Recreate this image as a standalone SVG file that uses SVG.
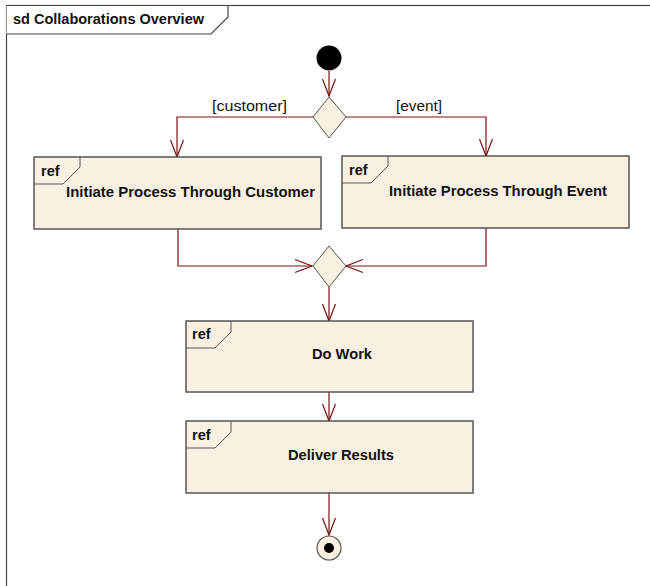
<svg xmlns="http://www.w3.org/2000/svg" width="650" height="586" viewBox="0 0 650 586">
<style>
.frame{fill:#ffffff;stroke:#444444;stroke-width:1.2}
.box{fill:#FAF0E2;stroke:#555555;stroke-width:1.5}
.tab{fill:none;stroke:#555555;stroke-width:1}
.conn{fill:none;stroke:#7B1111;stroke-width:1.2}
.bold{font-family:"Liberation Sans",Arial,sans-serif;font-weight:bold;font-size:14.5px;fill:#111111}
.lbl{font-family:"Liberation Sans",Arial,sans-serif;font-size:14px;fill:#111111}
</style>
<defs>
<marker id="arr" viewBox="-19 -8 21 16" markerWidth="21" markerHeight="16" refX="0" refY="0" orient="auto" markerUnits="userSpaceOnUse">
<path d="M-17,-6.5 L0,0 L-17,6.5" fill="none" stroke="#7B1111" stroke-width="1.2"/>
</marker>
</defs>
<rect x="0" y="0" width="650" height="586" fill="#ffffff"/>
<g id="frame">
<rect class="frame" x="6.5" y="5.5" width="660" height="600"/>
<path class="frame" d="M6.5,5.5 L228,5.5 L228,17 L211,34 L6.5,34"/>
<text class="bold" x="13" y="24" textLength="191" lengthAdjust="spacingAndGlyphs">sd Collaborations Overview</text>
</g>
<g id="connectors">
<path class="conn" d="M329,71 L329,96" marker-end="url(#arr)"/>
<path class="conn" d="M313,117 L177,117 L177,157" marker-end="url(#arr)"/>
<path class="conn" d="M346,117 L486,117 L486,156" marker-end="url(#arr)"/>
<path class="conn" d="M178,229 L178,266 L312,266" marker-end="url(#arr)"/>
<path class="conn" d="M486,228 L486,266 L346,266" marker-end="url(#arr)"/>
<path class="conn" d="M329,287 L329,321" marker-end="url(#arr)"/>
<path class="conn" d="M329,392 L329,421" marker-end="url(#arr)"/>
<path class="conn" d="M329,493 L329,535" marker-end="url(#arr)"/>
<text class="lbl" x="212" y="111" textLength="75" lengthAdjust="spacingAndGlyphs">[customer]</text>
<text class="lbl" x="396" y="111" textLength="46" lengthAdjust="spacingAndGlyphs">[event]</text>
</g>
<g id="initial">
<circle cx="329" cy="58" r="12.5" fill="#000000"/>
</g>
<g id="decision1">
<polygon points="329,97 346,117 329,138 313,117" fill="#FAF0E2" stroke="#555555" stroke-width="1"/>
</g>
<g id="refCustomer">
<rect class="box" x="34" y="157" width="287" height="72"/>
<path class="tab" d="M34,184 L63,184 L80,167 L80,157"/>
<text class="bold" x="41" y="176">ref</text>
<text class="bold" x="66" y="197" textLength="249" lengthAdjust="spacingAndGlyphs">Initiate Process Through Customer</text>
</g>
<g id="refEvent">
<rect class="box" x="342" y="156" width="287" height="72"/>
<path class="tab" d="M342,183 L371,183 L388,166 L388,156"/>
<text class="bold" x="349" y="175">ref</text>
<text class="bold" x="389" y="196" textLength="218" lengthAdjust="spacingAndGlyphs">Initiate Process Through Event</text>
</g>
<g id="decision2">
<polygon points="329,246 346,266 329,287 313,266" fill="#FAF0E2" stroke="#555555" stroke-width="1"/>
</g>
<g id="refDoWork">
<rect class="box" x="186" y="321" width="287" height="71"/>
<path class="tab" d="M186,348 L215,348 L231,332 L231,321"/>
<text class="bold" x="192" y="339">ref</text>
<text class="bold" x="312" y="359" textLength="60" lengthAdjust="spacingAndGlyphs">Do Work</text>
</g>
<g id="refDeliver">
<rect class="box" x="186" y="421" width="287" height="72"/>
<path class="tab" d="M186,448 L215,448 L231,432 L231,421"/>
<text class="bold" x="192" y="440">ref</text>
<text class="bold" x="288" y="460" textLength="106" lengthAdjust="spacingAndGlyphs">Deliver Results</text>
</g>
<g id="final">
<circle cx="329" cy="548" r="12" fill="#FAF0E2" stroke="#555555" stroke-width="1.2"/>
<circle cx="329" cy="548" r="5" fill="#000000"/>
</g>
</svg>
